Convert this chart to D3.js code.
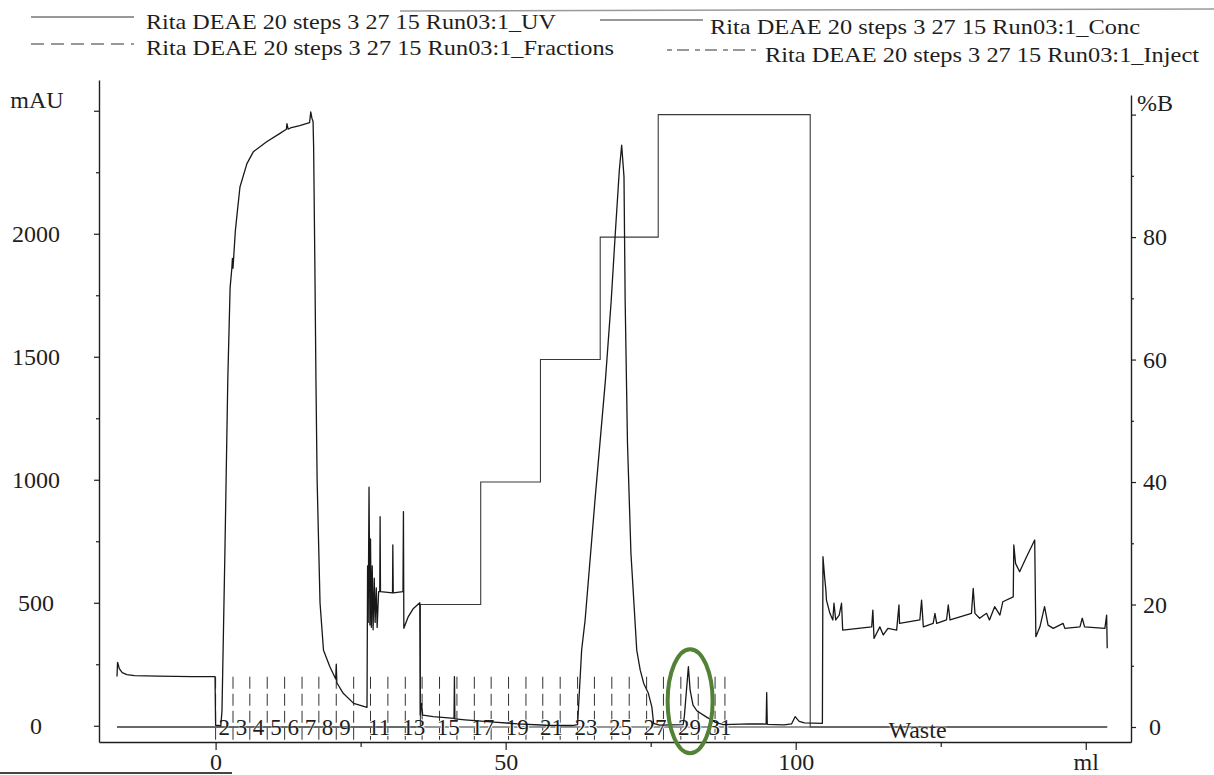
<!DOCTYPE html>
<html>
<head>
<meta charset="utf-8">
<script src="https://cdn.jsdelivr.net/npm/d3@7"></script>
<style>
body { margin: 0; background: #fff; }
svg text { font-family: "Liberation Serif", "DejaVu Serif", "Noto Serif", Times, serif; }
</style>
</head>
<body>
<div id="chart"></div>
<script>
// UV trace: volume (ml) and absorbance (mAU)
var uvMl = [-17.0, -16.9, -16.6, -16.1, -15.3, -14, -10, -4, -0.1, 0, 0.9, 1.1, 1.6, 2.1, 2.5, 2.8, 2.9, 3.0, 3.4, 3.7, 4.2, 5.4, 6.5, 8.8, 11.1, 12.2, 12.3, 12.5, 12.9, 14.5, 16.2, 16.4, 16.6, 16.8, 16.9, 17.1, 17.3, 17.5, 17.8, 18.0, 18.6, 19.7, 20.7, 20.8, 20.9, 22.0, 23.8, 26.1,
  26.2, 26.3, 26.45, 26.6, 26.7, 26.85, 27.0, 27.15, 27.35, 27.5, 27.7, 27.85, 28.1, 28.3, 28.36, 28.42, 30.5, 30.55, 30.62, 32.3, 32.38, 32.45, 33.2, 34.1, 35.2, 35.28, 35.5, 35.7,
  37.5, 41.1, 41.17, 41.25, 43, 48, 52, 57, 61.5, 62.4, 63.1, 63.7, 65.4, 67.2, 68.2, 68.9, 69.6, 70.0, 70.4, 70.6, 71.0, 71.6, 72.6, 73.2, 73.8, 74.6, 75.2, 75.5, 76.5,
  80.6, 80.8, 81.5, 81.8, 82.3, 83.0, 84.5, 86.1, 87.5, 92, 94.9, 95.0, 95.1, 98, 99.3, 99.9, 100.6, 101.5, 104.6,
  104.7, 105.0, 105.2, 105.3, 105.9, 106.4, 106.6, 106.9, 107.5, 107.9, 108.1, 113.1, 113.3, 113.5, 114.5, 115.1, 115.9, 117.4, 117.8, 117.9, 121.4, 121.7, 122.0, 123.7, 124.0, 124.3, 126.0, 126.3, 126.6,
  130.3, 130.6, 130.9, 131.7, 132.9, 133.4, 134.3, 135.2, 135.7, 137.5, 137.6, 137.9, 138.6, 139.8, 141.2, 141.4, 142.1, 142.9, 143.5, 144.4, 146.1, 146.4, 149.0, 149.4, 149.8, 153.3, 153.6, 153.7];
var uvMau = [200, 258, 232, 216, 208, 204, 202, 200, 200, 2, 0, 60, 700, 1405, 1780, 1860, 1900, 1860, 2010, 2080, 2190, 2285, 2333, 2374, 2408, 2425, 2448, 2425, 2430, 2440, 2452, 2495, 2470, 2456, 2350, 1900, 1400, 1000, 700, 500, 307, 240, 190, 250, 175, 132, 91, 75,
  650, 420, 970, 410, 760, 400, 650, 390, 600, 420, 560, 400, 545, 545, 850, 545, 540, 735, 540, 545, 870, 396, 443, 477, 500, 44, 91, 43,
  37, 30, 200, 28, 24, 15, 8, 2, 1, 5, 308, 430, 917, 1405, 1730, 2002, 2259, 2360, 2232, 1730, 1150, 700, 307, 226, 172, 132, 77, 10, 3,
  5, 37, 240, 145, 84, 60, 37, 15, 5, 8, 7, 135, 6, 4, 8, 37, 18, 12, 10,
  687, 600, 552, 511, 457, 430, 498, 430, 450, 498, 389, 402, 470, 355, 402, 369, 396, 389, 491, 416, 430, 511, 402, 416, 457, 416, 430, 491, 430,
  457, 558, 457, 437, 457, 430, 484, 450, 504, 524, 735, 660, 626, 687, 755, 362, 402, 484, 409, 396, 416, 396, 402, 437, 402, 396, 450, 315];

// Conc trace: step gradient, %B
var concMl = [-17.0, 35.3, 35.3, 45.7, 45.7, 56.0, 56.0, 66.3, 66.3, 76.3, 76.3, 102.5, 102.5, 153.7];
var concPct = [0, 0, 20, 20, 40, 40, 60, 60, 80, 80, 100, 100, 0, 0];

// Fractions: start volume of each tube and its number
var fracMl = [0, 3.0, 5.9, 8.9, 11.9, 14.9, 17.8, 20.8, 23.8, 26.7, 29.7, 32.7, 35.6, 38.6, 41.6, 44.6, 47.5, 50.5, 53.5, 56.4, 59.4, 62.4, 65.3, 68.3, 71.3, 74.3, 77.2, 80.2, 83.2, 86.1];
var fracNum = [2, 3, 4, 5, 6, 7, 8, 9, 10, 11, 12, 13, 14, 15, 16, 17, 18, 19, 20, 21, 22, 23, 24, 25, 26, 27, 28, 29, 30, 31];
var fracEndMl = 87.8;
var wasteMl = 121;
var circledPeakMl = 81.8;

// axis ticks
var mauTicks = [0, 500, 1000, 1500, 2000, 2500];
var mauMinor = [250, 750, 1250, 1750, 2250];
var pctTicks = [0, 20, 40, 60, 80, 100];
var pctMinor = [10, 30, 50, 70, 90];
var mlTicks = [0, 50, 100, 150];
var mlMinor = [25, 75, 125];

var runName = "Rita DEAE 20 steps 3 27 15 Run03:1_";
var legendItems = ["UV", "Conc", "Fractions", "Inject"];

var serif = "Liberation Serif, DejaVu Serif, Noto Serif, Times, serif";
var ink = "#1e1e1e";

// set the dimensions and margins of the graph
var margin = {top: 80, right: 83, bottom: 33, left: 99},
    width = 1214 - margin.left - margin.right,
    height = 775 - margin.top - margin.bottom;

var svg = d3.select("#chart")
  .append("svg")
    .attr("width", 1214)
    .attr("height", 775);

svg.append("rect").attr("width", 1214).attr("height", 775).attr("fill", "#fff");

// faint scan edges
svg.append("line").attr("x1", 400).attr("x2", 1214).attr("y1", 11).attr("y2", 9)
  .attr("stroke", "#9a9a9a").attr("stroke-width", 1.5);
svg.append("line").attr("x1", 0).attr("x2", 232).attr("y1", 773).attr("y2", 773)
  .attr("stroke", "#444").attr("stroke-width", 2);

var g = svg.append("g")
  .attr("transform", "translate(" + margin.left + "," + margin.top + ")");

var x = d3.scaleLinear().domain([-20.1, 157.8]).range([0, width]);
var yUV = d3.scaleLinear().domain([-66, 2625]).range([height, 0]);
var yB = d3.scaleLinear().domain([-2.45, 103.2]).range([height, 15]);

function styleAxis(sel) {
  sel.attr("font-family", serif).attr("font-size", 24).attr("color", ink);
  sel.select(".domain").attr("stroke-width", 1.4);
  sel.selectAll("line").attr("stroke-width", 1.2);
}

// Left axis (mAU)
var axL = g.append("g")
  .call(d3.axisLeft(yUV).tickValues(mauTicks).tickSize(5).tickSizeOuter(0)
    .tickFormat(function(d) { return d === 2500 ? "" : d; }));
styleAxis(axL);
axL.selectAll("text").attr("text-anchor", "middle").attr("x", -63);
var axLm = g.append("g")
  .call(d3.axisLeft(yUV).tickValues(mauMinor).tickSize(3).tickFormat(""));
styleAxis(axLm);
axLm.select(".domain").remove();

// Right axis (%B)
var axR = g.append("g")
  .attr("transform", "translate(" + width + ",0)")
  .call(d3.axisRight(yB).tickValues(pctTicks).tickSize(5).tickSizeOuter(0)
    .tickFormat(function(d) { return d === 100 ? "" : d; }));
styleAxis(axR);
axR.selectAll("text").attr("text-anchor", "middle").attr("x", 24);
var axRm = g.append("g")
  .attr("transform", "translate(" + width + ",0)")
  .call(d3.axisRight(yB).tickValues(pctMinor).tickSize(3).tickFormat(""));
styleAxis(axRm);
axRm.select(".domain").remove();

// Bottom axis (ml)
var axB = g.append("g")
  .attr("transform", "translate(0," + height + ")")
  .call(d3.axisBottom(x).tickValues(mlTicks).tickSize(8).tickPadding(3).tickSizeOuter(0)
    .tickFormat(function(d) { return d === 150 ? "ml" : d; }));
styleAxis(axB);
var axBm = g.append("g")
  .attr("transform", "translate(0," + height + ")")
  .call(d3.axisBottom(x).tickValues(mlMinor).tickSize(5).tickFormat(""));
styleAxis(axBm);
axBm.select(".domain").remove();

// axis unit labels
g.append("text").attr("x", -62).attr("y", yUV(2625) + 20)
  .attr("text-anchor", "middle").attr("dominant-baseline", "central")
  .attr("font-size", 24).attr("fill", ink).text("mAU");
g.append("text").attr("x", width + 24).attr("y", yB(100) - 12)
  .attr("text-anchor", "middle").attr("dominant-baseline", "central")
  .attr("font-size", 24).attr("fill", ink).text("%B");

// Fractions: baseline, tube marks, numbers
g.append("line")
  .attr("x1", x(uvMl[0])).attr("x2", x(uvMl[uvMl.length - 1]))
  .attr("y1", yB(0)).attr("y2", yB(0))
  .attr("stroke", "#333").attr("stroke-width", 1.1);

var fracMarks = fracMl.concat([fracEndMl]);
g.selectAll(".frac")
  .data(fracMarks)
  .enter()
  .append("line")
    .attr("class", "frac")
    .attr("x1", function(d) { return x(d); })
    .attr("x2", function(d) { return x(d); })
    .attr("y1", yUV(0) - 49)
    .attr("y2", height - 1)
    .attr("stroke", "#333")
    .attr("stroke-width", 1)
    .attr("stroke-dasharray", "12,5");

g.selectAll(".fracLabel")
  .data(fracNum.filter(function(n) { return n < 10 || n % 2 === 1; }))
  .enter()
  .append("text")
    .attr("class", "fracLabel")
    .attr("x", function(n) {
      var i = fracNum.indexOf(n);
      var end = i + 1 < fracMl.length ? fracMl[i + 1] : fracEndMl;
      return x((fracMl[i] + end) / 2);
    })
    .attr("y", yB(0) + 1)
    .attr("text-anchor", "middle")
    .attr("dominant-baseline", "central")
    .attr("font-size", 23)
    .attr("fill", ink)
    .attr("stroke", "#fff").attr("stroke-width", 2).attr("paint-order", "stroke")
    .text(function(n) { return n; });

g.append("text")
  .attr("x", x(wasteMl)).attr("y", yB(0) + 3)
  .attr("text-anchor", "middle").attr("dominant-baseline", "central")
  .attr("font-size", 24).attr("fill", ink)
  .attr("stroke", "#fff").attr("stroke-width", 3).attr("paint-order", "stroke")
  .text("Waste");

// Conc line
var concData = concMl.map(function(v, i) { return [v, concPct[i]]; });
g.append("path")
  .datum(concData)
  .attr("fill", "none")
  .attr("stroke", "#3a3a3a")
  .attr("stroke-width", 1.1)
  .attr("d", d3.line().x(function(d) { return x(d[0]); }).y(function(d) { return yB(d[1]); }));

// UV line
var uvData = uvMl.map(function(v, i) { return [v, uvMau[i]]; });
g.append("path")
  .datum(uvData)
  .attr("fill", "none")
  .attr("stroke", "#181818")
  .attr("stroke-width", 1.3)
  .attr("stroke-linejoin", "round")
  .attr("d", d3.line().x(function(d) { return x(d[0]); }).y(function(d) { return yUV(d[1]); }));

// green ring round the small peak in tube 29
g.append("ellipse")
  .attr("cx", x(circledPeakMl))
  .attr("cy", yUV(100))
  .attr("rx", 22.5)
  .attr("ry", 52)
  .attr("fill", "none")
  .attr("stroke", "#538135")
  .attr("stroke-width", 4);

// Legend
var legendPos = [
  {lx: 31, lw: 103, ly: 17, tx: 146, ty: 21, len: 410, dash: null},
  {lx: 600, lw: 103, ly: 20, tx: 710, ty: 26, len: 430, dash: null},
  {lx: 31, lw: 103, ly: 44, tx: 146, ty: 47, len: 468, dash: "13,7"},
  {lx: 667, lw: 90, ly: 50, tx: 765, ty: 54, len: 434, dash: "5,5,12,6"}
];
var legend = svg.selectAll(".legend")
  .data(legendItems)
  .enter()
  .append("g")
    .attr("class", "legend");
legend.append("line")
  .attr("x1", function(d, i) { return legendPos[i].lx; })
  .attr("x2", function(d, i) { return legendPos[i].lx + legendPos[i].lw; })
  .attr("y1", function(d, i) { return legendPos[i].ly; })
  .attr("y2", function(d, i) { return legendPos[i].ly; })
  .attr("stroke", "#333")
  .attr("stroke-width", 1.2)
  .attr("stroke-dasharray", function(d, i) { return legendPos[i].dash; });
legend.append("text")
  .attr("x", function(d, i) { return legendPos[i].tx; })
  .attr("y", function(d, i) { return legendPos[i].ty; })
  .attr("dominant-baseline", "central")
  .attr("font-size", 22)
  .attr("fill", ink)
  .attr("textLength", function(d, i) { return legendPos[i].len; })
  .attr("lengthAdjust", "spacingAndGlyphs")
  .text(function(d) { return runName + d; });
</script>
</body>
</html>
